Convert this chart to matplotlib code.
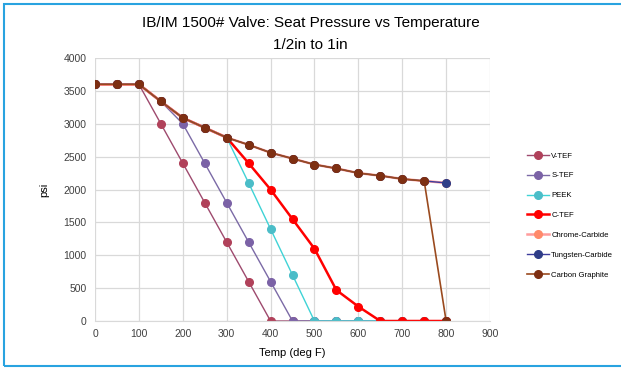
import matplotlib
matplotlib.use("Agg")
import matplotlib.pyplot as plt
from matplotlib.patches import Rectangle

plt.rcParams['font.family'] = ['Liberation Sans', 'DejaVu Sans']

temps = [0, 50, 100, 150, 200, 250, 300, 350, 400, 450, 500, 550, 600, 650, 700, 750, 800]

v_tef = [3600, 3600, 3600, 3000, 2400, 1800, 1200, 600, 0, 0, 0, 0, 0, 0, 0, 0, 0]
s_tef = [3600, 3600, 3600, 3340, 3000, 2400, 1800, 1200, 600, 0, 0, 0, 0, 0, 0, 0, 0]
peek = [3600, 3600, 3600, 3340, 3090, 2940, 2790, 2100, 1400, 700, 0, 0, 0, 0, 0, 0, 0]
c_tef = [3600, 3600, 3600, 3340, 3090, 2940, 2790, 2400, 2000, 1550, 1100, 470, 220, 0, 0, 0, 0]
chrome = [3600, 3600, 3600, 3340, 3090, 2940, 2790, 2680, 2560, 2470, 2380, 2320, 2250, 2210, 2160, 2130, 2100]
tungsten = [3600, 3600, 3600, 3340, 3090, 2940, 2790, 2680, 2560, 2470, 2380, 2320, 2250, 2210, 2160, 2130, 2100]
carbon = [3600, 3600, 3600, 3340, 3090, 2940, 2790, 2680, 2560, 2470, 2380, 2320, 2250, 2210, 2160, 2130, 0]

series = [
    ("V-TEF", v_tef, "#9E4A6E", "#B0415A", 1.0),
    ("S-TEF", s_tef, "#7B6AA6", "#7B62A6", 1.0),
    ("PEEK", peek, "#3FD3D6", "#4BBDC8", 1.0),
    ("C-TEF", c_tef, "#FF0000", "#FF0000", 1.8),
    ("Chrome-Carbide", chrome, "#FF9C9C", "#FF8A6A", 1.8),
    ("Tungsten-Carbide", tungsten, "#3C3C9C", "#2E3D87", 1.0),
    ("Carbon Graphite", carbon, "#9A4A1E", "#7E2F12", 1.2),
]

fig = plt.figure(figsize=(6.21, 3.70), dpi=100)
ax = fig.add_axes([95 / 621, 1 - 321 / 370, 395 / 621, 263 / 370])

for name, vals, lc, mc, lw in series:
    ax.plot(temps, vals, color=lc, lw=lw, marker='o', markersize=5.5,
            markerfacecolor=mc, markeredgecolor=mc, label=name)

ax.set_xlim(0, 900)
ax.set_ylim(0, 4000)
ax.set_xticks(range(0, 901, 100))
ax.set_yticks(range(0, 4001, 500))
ax.grid(True, color='#D9D9D9', lw=0.9)
ax.set_axisbelow(True)
for s in ['top', 'right', 'left']:
    ax.spines[s].set_visible(False)
ax.spines['bottom'].set_color('#D9D9D9')
ax.tick_params(length=0, labelsize=7.5, colors='#404040', pad=6)
ax.set_xlabel('Temp (deg F)', fontsize=8, color='#000000', labelpad=6)
ax.set_ylabel('psi', fontsize=8, color='#000000', labelpad=10)

fig.text(0.5, 1 - 23 / 370, 'IB/IM 1500# Valve: Seat Pressure vs Temperature',
         ha='center', va='center', fontsize=11)
fig.text(0.5, 1 - 45 / 370, '1/2in to 1in', ha='center', va='center', fontsize=11)

ax.legend(loc='upper left', bbox_to_anchor=(524 / 621, 1 - 149 / 370),
          bbox_transform=fig.transFigure, frameon=False, fontsize=5.6,
          handlelength=2.8, labelspacing=1.6, handletextpad=0.3, borderaxespad=0)

fig.patches.append(Rectangle((4 / 621, 4 / 370), 1.1, 1 - 8 / 370,
                             transform=fig.transFigure, fill=False,
                             edgecolor='#29A3E0', lw=1.5))

fig.savefig('out.png', dpi=100)
